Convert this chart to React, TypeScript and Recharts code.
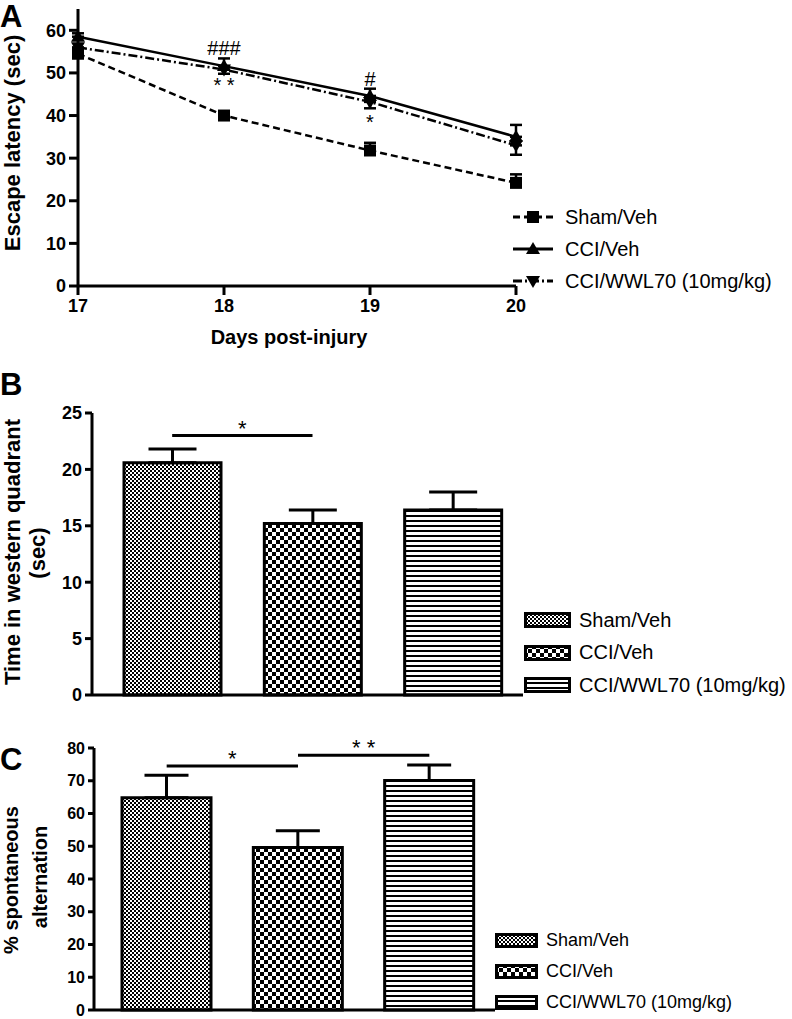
import React from "react";
import {
  LineChart,
  Line,
  BarChart,
  Bar,
  Cell,
  XAxis,
  YAxis,
  ErrorBar,
  ReferenceLine,
  ReferenceDot,
} from "recharts";

const FONT = '"Liberation Sans", Arial, Helvetica, sans-serif';

// ---- Panel A: escape latency over days ----
const days = [17, 18, 19, 20];
const latencyTicks = [0, 10, 20, 30, 40, 50, 60];
const shamVehLatency = [54.5, 40.0, 31.8, 24.2];
const shamVehLatencyErr = [1.2, 0.8, 1.8, 2.0];
const cciVehLatency = [58.5, 51.6, 44.6, 35.0];
const cciVehLatencyErr = [0.8, 1.8, 1.7, 2.8];
const wwl70Latency = [56.0, 50.8, 43.2, 33.0];
const wwl70LatencyErr = [1.0, 1.0, 1.5, 2.2];
const latencyMarks = [
  { day: 18, y: 55.8, text: "###" },
  { day: 18, y: 47.1, text: "* *" },
  { day: 19, y: 48.7, text: "#" },
  { day: 19, y: 38.4, text: "*" },
];

// ---- Panels B and C: bar charts ----
const groups = ["Sham/Veh", "CCI/Veh", "CCI/WWL70 (10mg/kg)"];
const groupPatterns = ["url(#fineCheck)", "url(#coarseCheck)", "url(#hLines)"];
const westernTicks = [0, 5, 10, 15, 20, 25];
const westernTime = [20.6, 15.2, 16.4];
const westernTimeErr = [1.2, 1.2, 1.6];
const westernSig = [{ from: 0, to: 1, y: 23, text: "*" }];
const alternationTicks = [0, 10, 20, 30, 40, 50, 60, 70, 80];
const alternation = [64.8, 49.6, 70.1];
const alternationErr = [6.9, 5.1, 4.7];
const alternationSig = [
  { from: 0, to: 1, y: 74.5, text: "*" },
  { from: 1, to: 2, y: 77.8, text: "* *" },
];

const latencyData = days.map((day, i) => ({
  day,
  sham: shamVehLatency[i],
  shamErr: [0, shamVehLatencyErr[i]],
  cci: cciVehLatency[i],
  cciErr: [0, cciVehLatencyErr[i]],
  wwl: wwl70Latency[i],
  wwlErr: [wwl70LatencyErr[i], 0],
}));

const westernData = groups.map((group, i) => ({
  group,
  value: westernTime[i],
  err: [0, westernTimeErr[i]],
}));

const alternationData = groups.map((group, i) => ({
  group,
  value: alternation[i],
  err: [0, alternationErr[i]],
}));

type MarkerKind = "square" | "triangle" | "down";

const lineSeries: { key: string; err: string; name: string; dash?: string; marker: MarkerKind }[] = [
  { key: "sham", err: "shamErr", name: "Sham/Veh", dash: "7 4", marker: "square" },
  { key: "cci", err: "cciErr", name: "CCI/Veh", marker: "triangle" },
  { key: "wwl", err: "wwlErr", name: "CCI/WWL70 (10mg/kg)", dash: "9 3 2 3", marker: "down" },
];

function Marker({ kind, cx, cy }: { kind: MarkerKind; cx: number; cy: number }) {
  if (kind === "square") {
    return <rect x={cx - 6} y={cy - 6} width={12} height={12} fill="#000" />;
  }
  if (kind === "triangle") {
    return <polygon points={`${cx - 7},${cy + 5} ${cx + 7},${cy + 5} ${cx},${cy - 7}`} fill="#000" />;
  }
  return <polygon points={`${cx - 7},${cy - 5} ${cx + 7},${cy - 5} ${cx},${cy + 7}`} fill="#000" />;
}

const dotFor = (kind: MarkerKind) => (props: any) => {
  const { cx, cy, index } = props;
  return (
    <g key={`${kind}-${index}`}>
      <Marker kind={kind} cx={cx} cy={cy} />
    </g>
  );
};

const tickStyle = { fill: "#000", fontSize: 18, fontWeight: "bold" as const, fontFamily: FONT };
const smallTickStyle = { ...tickStyle, fontSize: 16 };
const axisStroke = { stroke: "#000", strokeWidth: 3 };

function Rotated({ x, y, size, children }: { x: number; y: number; size: number; children: React.ReactNode }) {
  return (
    <div
      style={{
        position: "absolute",
        left: x,
        top: y,
        transform: "translate(-50%, -50%) rotate(-90deg)",
        whiteSpace: "nowrap",
        fontSize: size,
        fontWeight: "bold",
        lineHeight: 1,
      }}
    >
      {children}
    </div>
  );
}

function PanelLetter({ y, text }: { y: number; text: string }) {
  return (
    <div style={{ position: "absolute", left: 0, top: y - 17, fontSize: 31, fontWeight: "bold", lineHeight: "34px" }}>
      {text}
    </div>
  );
}

function BarLegend({ left, top, step, boxW, boxH, size }: { left: number; top: number; step: number; boxW: number; boxH: number; size: number }) {
  return (
    <>
      {groups.map((g, i) => (
        <div key={g} style={{ position: "absolute", left, top: top + i * step - 12, height: 24, display: "flex", alignItems: "center", whiteSpace: "nowrap" }}>
          <svg width={boxW + 2} height={boxH + 2} style={{ display: "block" }}>
            <rect x={1.5} y={1.5} width={boxW - 1} height={boxH - 1} fill={groupPatterns[i]} stroke="#000" strokeWidth={3} />
          </svg>
          <span style={{ marginLeft: 8, fontSize: size }}>{g}</span>
        </div>
      ))}
    </>
  );
}

function LineLegend() {
  const rows = [217, 249, 281];
  return (
    <>
      {lineSeries.map((s, i) => (
        <div key={s.key} style={{ position: "absolute", left: 513, top: rows[i] - 12, height: 24, display: "flex", alignItems: "center", whiteSpace: "nowrap" }}>
          <svg width={40} height={16} style={{ display: "block" }}>
            <line x1={0} y1={8} x2={40} y2={8} stroke="#000" strokeWidth={3} strokeDasharray={s.dash} />
            <Marker kind={s.marker} cx={20} cy={8} />
          </svg>
          <span style={{ marginLeft: 12, fontSize: 20 }}>{s.name}</span>
        </div>
      ))}
    </>
  );
}

export default function App() {
  return (
    <div
      style={{
        position: "absolute",
        left: 0,
        top: 0,
        width: 792,
        height: 1019,
        background: "#fff",
        color: "#000",
        fontFamily: FONT,
        overflow: "hidden",
      }}
    >
      <svg width={0} height={0} style={{ position: "absolute" }}>
        <defs>
          <pattern id="fineCheck" width={4} height={4} patternUnits="userSpaceOnUse">
            <rect width={4} height={4} fill="#fff" />
            <rect width={2} height={2} fill="#000" />
            <rect x={2} y={2} width={2} height={2} fill="#000" />
          </pattern>
          <pattern id="coarseCheck" width={8} height={8} patternUnits="userSpaceOnUse">
            <rect width={8} height={8} fill="#fff" />
            <rect width={4} height={4} fill="#000" />
            <rect x={4} y={4} width={4} height={4} fill="#000" />
          </pattern>
          <pattern id="hLines" width={6} height={5} patternUnits="userSpaceOnUse">
            <rect width={6} height={5} fill="#fff" />
            <rect width={6} height={2} fill="#000" />
          </pattern>
        </defs>
      </svg>

      {/* Panel A */}
      <PanelLetter y={17} text="A" />
      <Rotated x={13} y={143} size={22}>Escape latency (sec)</Rotated>
      <div style={{ position: "absolute", left: 289, top: 337, transform: "translate(-50%, -50%)", fontSize: 20, fontWeight: "bold", whiteSpace: "nowrap" }}>
        Days post-injury
      </div>
      <div style={{ position: "absolute", left: 0, top: 0 }}>
        <LineChart width={792} height={360} data={latencyData} margin={{ top: 9, right: 276, bottom: 73, left: 77 }}>
          <XAxis
            dataKey="day"
            type="number"
            domain={[17, 20]}
            ticks={days}
            interval={0}
            height={1}
            tick={tickStyle}
            tickSize={9}
            tickMargin={4}
            axisLine={axisStroke}
            tickLine={axisStroke}
          />
          <YAxis
            type="number"
            domain={[0, 65]}
            ticks={latencyTicks}
            interval={0}
            width={1}
            tick={tickStyle}
            tickSize={9}
            tickMargin={3}
            axisLine={axisStroke}
            tickLine={axisStroke}
          />
          {lineSeries.map((s) => (
            <Line
              key={s.key}
              dataKey={s.key}
              type="linear"
              stroke="#000"
              strokeWidth={2.5}
              strokeDasharray={s.dash}
              dot={dotFor(s.marker)}
              activeDot={false}
              isAnimationActive={false}
            >
              <ErrorBar dataKey={s.err} direction="y" width={6} stroke="#000" strokeWidth={2.5} />
            </Line>
          ))}
          {latencyMarks.map((m, i) => (
            <ReferenceDot
              key={i}
              x={m.day}
              y={m.y}
              r={0}
              fill="none"
              stroke="none"
              label={{ value: m.text, position: "center", fill: "#000", fontSize: 20, fontFamily: FONT }}
            />
          ))}
        </LineChart>
      </div>
      <LineLegend />

      {/* Panel B */}
      <PanelLetter y={385} text="B" />
      <Rotated x={13} y={552} size={22}>Time in western quadrant</Rotated>
      <Rotated x={38} y={553} size={22}>(sec)</Rotated>
      <div style={{ position: "absolute", left: 0, top: 360 }}>
        <BarChart width={792} height={360} data={westernData} margin={{ top: 53, right: 269, bottom: 24, left: 91 }}>
          <XAxis dataKey="group" height={1} tick={false} tickLine={false} axisLine={axisStroke} padding={{ left: 10, right: 0 }} />
          <YAxis
            type="number"
            domain={[0, 25]}
            ticks={westernTicks}
            interval={0}
            width={1}
            tick={tickStyle}
            tickSize={7}
            tickMargin={3}
            axisLine={axisStroke}
            tickLine={axisStroke}
          />
          <Bar dataKey="value" barSize={97} stroke="#000" strokeWidth={3} isAnimationActive={false}>
            {westernData.map((d, i) => (
              <Cell key={d.group} fill={groupPatterns[i]} />
            ))}
            <ErrorBar dataKey="err" direction="y" width={24} stroke="#000" strokeWidth={3} />
          </Bar>
          {westernSig.map((s, i) => (
            <ReferenceLine
              key={i}
              segment={[
                { x: groups[s.from], y: s.y },
                { x: groups[s.to], y: s.y },
              ]}
              stroke="#000"
              strokeWidth={3}
              ifOverflow="visible"
              label={{ value: s.text, position: "top", offset: 0, fill: "#000", fontSize: 22, fontFamily: FONT }}
            />
          ))}
        </BarChart>
      </div>
      <BarLegend left={524} top={620} step={32.5} boxW={45} boxH={14} size={20} />

      {/* Panel C */}
      <PanelLetter y={760} text="C" />
      <Rotated x={11} y={880} size={20}>% spontaneous</Rotated>
      <Rotated x={40} y={877} size={20}>alternation</Rotated>
      <div style={{ position: "absolute", left: 0, top: 720 }}>
        <BarChart width={792} height={299} data={alternationData} margin={{ top: 28, right: 297, bottom: 8, left: 93 }}>
          <XAxis dataKey="group" height={1} tick={false} tickLine={false} axisLine={axisStroke} padding={{ left: 7, right: 0 }} />
          <YAxis
            type="number"
            domain={[0, 80]}
            ticks={alternationTicks}
            interval={0}
            width={1}
            tick={smallTickStyle}
            tickSize={6}
            tickMargin={3}
            axisLine={axisStroke}
            tickLine={axisStroke}
          />
          <Bar dataKey="value" barSize={89} stroke="#000" strokeWidth={3} isAnimationActive={false}>
            {alternationData.map((d, i) => (
              <Cell key={d.group} fill={groupPatterns[i]} />
            ))}
            <ErrorBar dataKey="err" direction="y" width={22} stroke="#000" strokeWidth={3} />
          </Bar>
          {alternationSig.map((s, i) => (
            <ReferenceLine
              key={i}
              segment={[
                { x: groups[s.from], y: s.y },
                { x: groups[s.to], y: s.y },
              ]}
              stroke="#000"
              strokeWidth={3}
              ifOverflow="visible"
              label={{ value: s.text, position: "top", offset: 0, fill: "#000", fontSize: 22, fontFamily: FONT }}
            />
          ))}
        </BarChart>
      </div>
      <BarLegend left={495} top={940} step={31} boxW={41} boxH={13} size={18} />
    </div>
  );
}
